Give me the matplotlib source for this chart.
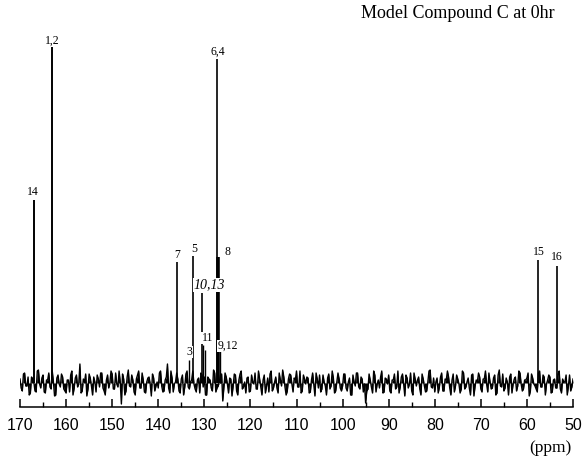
import numpy as np
import matplotlib
matplotlib.use('Agg')
import matplotlib.pyplot as plt

# Peak positions (ppm) and heights above the baseline (arbitrary units).
peak_ppm = [167.0, 163.1, 135.9, 133.3, 132.4, 130.6, 130.2, 129.8, 127.3, 127.0, 126.7, 57.5, 53.5]
peak_height = [183, 336, 121, 23, 127, 90, 38, 33, 324, 126, 33, 123, 117]
peak_label = ['14', '1,2', '7', '3', '5', '10,13', '11', '', '6,4', '8', '9,12', '15', '16']

# Baseline noise: values on the 0.5 ppm points (170 -> 50)
noise_a = [
    4, -8, 10, -3, -12, 6, 1, -9, 13, -5, 8, -10, 3, -4, 12, -13, 5, -1, 9, -6,
    -10, 3, 8, -12, 5, -4, 19, -8, 1, -13, 9, -3, 6, -9, 4, 10, -5, -12, 8, 0,
    9, -6, -1, 12, -21, 4, -8, 13, -4, 3, -12, 8, -5, 10, -9, 1, 6, -13, 5, -3,
    -5, 12, -9, 3, 19, -10, 5, -1, 10, -8, 4, -12, 9, -4, 1, 12, -6, 3, -10, 8,
    6, -12, 4, -5, 13, -9, -3, 8, -18, 10, -1, 5, -13, 9, -8, 3, 12, -4, -10, 6,
    -8, 1, 10, -6, 4, -12, 8, -3, -9, 12, -5, 6, -10, 3, 13, -4, -8, 9, -1, 5,
    12, -4, -10, 8, -1, 5, -9, 10, -13, 4, 8, -6, 1, -12, 9, -3, 5, -8, 10, -5,
    -3, 9, -8, 5, -12, 1, 10, -4, 6, -9, -20, -6, 3, -10, 8, -1, -5, 12, -9, 4,
    8, -10, 3, -6, 12, -4, 9, -13, 5, -1, -8, 10, -3, 6, -12, 4, -9, 1, 13, -5,
    -9, 5, -4, 10, -8, 3, 6, -12, 9, -3, 4, -10, 12, -6, 1, -5, 8, -13, 3, 10,
    -6, 4, 12, -9, 1, -5, 8, -10, 13, -4, -8, 5, -12, 9, -1, 6, -3, 10, -8, 3,
    5, -13, 9, -1, -6, 10, -4, 8, -12, 3, 6, -9, 4, -5, 12, -10, 1, 8, -3, -8,
    4,
]
# ... and on the points in between (169.75 -> 50.25)
noise_b = [
    -5, 9, -3, 6, -10, 4, -8, 12, -1, 5, -9, 3, 10, -6, 1, -12, 8, -4, 6, -8,
    3, -9, 12, -5, 8, -1, -10, 4, 9, -6, 5, -12, 1, 8, -4, 10, -8, 3, -5, 12,
    -6, 10, -4, 1, 9, -12, 6, -3, 8, -9, 4, 12, -5, 3, -10, 5, -1, 9, -8, 1,
    10, -3, -8, 6, -5, 12, -9, 1, 4, -10, 8, -4, 12, -6, 3, -1, -9, 5, 10, -4,
    -12, 6, 3, -8, 10, -5, 1, 9, -4, 6, -10, 4, -3, 8, -12, 9, -6, 1, 5, -9,
    8, -1, -6, 12, -4, 3, -10, 5, 9, -8, 1, -5, 10, -3, 6, -12, 4, 8, -9, 3,
    -4, 12, -8, 4, 6, -10, 3, -1, 10, -5, -9, 8, -3, 5, -6, 12, -10, 1, 4, -8,
    9, -5, 1, -12, 8, -3, 10, -6, 4, -1, -8, 9, -4, 12, -9, 3, 6, -10, 5, -1,
    -8, 3, 9, -4, -10, 6, -1, 8, -5, 10, -12, 4, 3, -6, 9, -3, -8, 12, -4, 5,
    1, -10, 6, -8, 4, 12, -5, 3, -9, 8, -1, -6, 10, -4, 5, -12, 9, -3, 1, 6,
    -9, 4, -1, 10, -6, 5, -12, 8, -3, 9, -5, 1, 6, -10, 4, -8, 12, -1, -6, 3,
    10, -8, 5, -3, -9, 12, -4, 6, -1, 8, -10, 3, -5, 9, -6, 4, 1, -12, 8, -4,
]

major_ticks = [170, 160, 150, 140, 130, 120, 110, 100, 90, 80, 70, 60, 50]

# interleave the two noise lists into one trace
trace = []
for i in range(len(noise_b)):
    trace.append(noise_a[i])
    trace.append(noise_b[i])
trace.append(noise_a[-1])
trace_ppm = np.linspace(170, 50, len(trace))

# style only
baseline = 24
peak_lw = [1.4, 1.4, 1.2, 1.0, 1.2, 1.2, 1.0, 1.0, 1.2, 2.6, 1.0, 1.2, 1.2]
label_off = [(-1, 8), (0, 6), (0, 7), (0, 8), (1, 7), (8, 8), (4, 7), (0, 0),
             (1, 7), (9, 5), (8, 4), (0, 8), (0, 9)]

serif = 'Liberation Serif'
fig = plt.figure(figsize=(5.83, 4.61), dpi=100)
ax = fig.add_axes([20 / 583, 1 - 407 / 461, 553 / 583, 407 / 461])

y = baseline + np.array(trace)
ax.fill_between(trace_ppm, y, baseline, color='black', lw=0)
ax.plot(trace_ppm, y, color='black', lw=1.0)
ax.vlines(peak_ppm, baseline, baseline + np.array(peak_height), colors='black', lw=peak_lw)

for p, h, lab, (dx, dy) in zip(peak_ppm, peak_height, peak_label, label_off):
    if not lab:
        continue
    style = 'italic' if lab == '10,13' else 'normal'
    size = 10 if lab == '10,13' else 8.5
    ax.annotate(lab, (p, baseline + h), xytext=(dx, dy), textcoords='offset pixels',
                ha='center', va='center', fontsize=size, family=serif, style=style,
                bbox=dict(facecolor='white', edgecolor='none', pad=0.3))

ax.set_xlim(170, 50)
ax.set_ylim(0, 407)
for s in ['top', 'left', 'right']:
    ax.spines[s].set_visible(False)
ax.spines['bottom'].set_linewidth(1.1)
ax.set_yticks([])
ax.set_xticks(major_ticks)
ax.set_xticks(np.arange(165, 50, -10), minor=True)
ax.tick_params(axis='x', which='major', direction='in', length=6, width=1.1, pad=8,
               labelsize=11.5)
ax.tick_params(axis='x', which='minor', direction='in', length=3.5, width=1.0)
for t in ax.get_xticklabels():
    t.set_family('Liberation Sans')

fig.text(555 / 583, 1 - 14 / 461, 'Model Compound C at 0hr', ha='right', va='center',
         fontsize=13, family=serif)
fig.text(550 / 583, 1 - 448 / 461, '(ppm)', ha='center', va='center',
         fontsize=12.5, family=serif)

fig.savefig('out.png', dpi=100)
